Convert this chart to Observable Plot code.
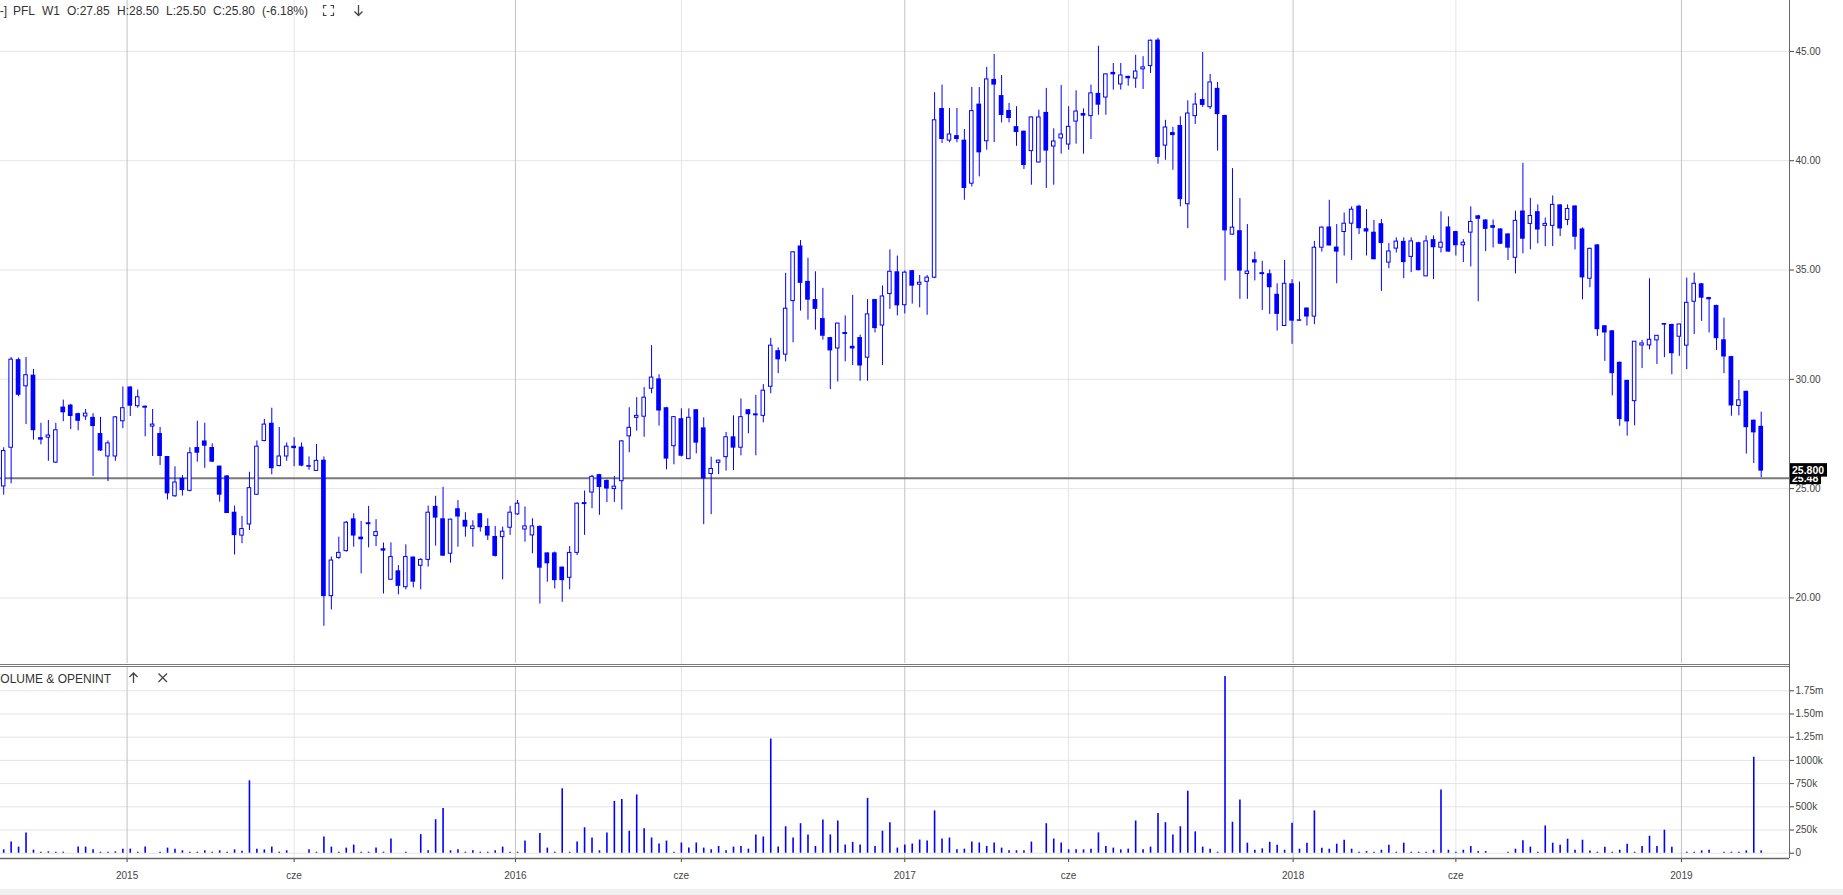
<!DOCTYPE html>
<html lang="pl">
<head>
<meta charset="utf-8">
<title>PFL W1</title>
<script src="https://cdn.jsdelivr.net/npm/d3@7"></script>
<script src="https://cdn.jsdelivr.net/npm/@observablehq/plot@0.6"></script>
<style>
html, body { margin:0; padding:0; background:#fff; overflow:hidden; }
#wrap { position:relative; width:1843px; height:895px; overflow:hidden; background:#fff; }
#price, #volume { position:absolute; left:0; }
#price { top:0; }
#volume { top:667px; }
#overlay { position:absolute; left:0; top:0; }
svg { display:block; }
</style>
</head>
<body>
<div id="wrap">
  <div id="price"></div>
  <div id="volume"></div>
  <svg id="overlay" width="1843" height="895"></svg>
</div>
<script>
// ---------- DATA (weekly bars, Sunday-stamped, first bar 2014-09-07) ----------
const firstBar = "2014-09-07";
const opens = [
25.1,26.87,30.9,29.68,30.19,27.33,27.33,26.19,28.73,28.82,
28.43,28.30,28.26,27.52,26.47,26.47,28.08,29.65,28.77,28.77,
27.84,27.52,26.47,24.65,25.47,24.9,26.88,27.18,26.88,26.03,
25.58,23.92,22.85,23.36,24.72,27.18,27.99,26.03,26.47,26.94,
26.9,26.0,25.81,26.30,20.08,21.83,22.14,23.62,22.78,23.44,
22.83,22.25,20.83,21.24,20.49,21.87,21.47,21.74,24.19,23.62,
22.02,24.08,23.55,23.15,23.85,23.27,22.81,22.78,23.21,23.82,
23.13,22.86,23.27,22.06,22.06,21.41,20.92,22.06,24.36,24.82,
25.64,25.37,24.98,25.34,27.39,28.24,28.29,29.57,30.02,28.7,
26.94,28.2,26.35,28.61,27.78,25.67,26.18,26.44,27.37,26.87,
28.61,28.42,28.33,29.66,31.31,31.13,33.58,36.1,34.48,33.65,
32.78,31.91,31.41,32.14,31.51,31.91,30.99,33.65,32.46,33.9,
34.92,33.39,34.97,34.33,34.46,34.65,42.39,40.92,41.15,40.94,
38.95,42.59,40.89,43.72,42.98,42.3,41.56,41.35,40.44,39.92,
42.21,40.65,41.02,40.74,41.79,42.16,42.04,43.08,42.89,44.04,
43.49,43.86,43.76,44.18,44.33,45.52,40.69,41.29,41.61,38.01,
42.04,42.8,42.45,43.31,42.07,36.62,36.8,34.82,35.47,34.88,
34.83,33.89,32.44,34.37,32.68,33.26,32.87,36.02,36.97,36.05,
36.74,37.12,37.92,36.89,36.73,37.12,35.34,35.98,36.31,35.6,
36.25,34.71,36.39,36.02,36.97,36.76,36.13,36.71,37.48,37.29,
37.03,36.88,36.65,35.56,37.7,37.11,37.67,37.02,37.02,37.98,
37.29,37.93,36.88,34.6,36.15,32.45,32.22,30.78,29.95,29.0,
31.55,31.55,31.78,32.5,32.51,31.95,31.54,33.55,34.37,33.74,
33.38,31.81,31.04,28.78,29.45,28.13,27.85];
const highs = [
26.87,31.0,30.97,31.0,30.45,27.99,28.12,27.99,29.05,28.86,
28.45,28.62,28.43,28.26,27.18,28.30,29.65,29.66,29.51,28.78,
28.62,27.8,26.47,26.0,25.6,26.87,28.08,27.99,27.05,26.03,
25.6,24.2,23.73,25.75,27.18,28.17,28.68,27.8,27.09,27.33,
27.09,26.45,27.02,26.45,21.87,22.78,23.5,23.85,23.5,24.19,
23.58,22.51,22.52,21.48,22.43,21.87,21.79,24.2,24.65,25.06,
23.6,24.45,23.9,23.53,23.86,23.62,23.27,23.24,24.19,24.46,
24.16,23.62,23.3,22.06,22.1,21.41,22.35,24.35,24.89,25.61,
25.65,25.4,25.55,27.2,28.7,29.16,29.62,31.54,30.21,28.72,
28.3,28.65,28.65,28.62,28.24,26.44,26.3,27.57,28.33,29.1,
28.62,29.27,29.76,31.87,31.44,34.85,35.84,36.35,35.54,34.92,
34.16,31.92,32.56,32.9,33.84,32.02,33.65,33.66,34.27,35.92,
35.64,34.95,34.98,34.75,34.75,43.11,43.46,42.39,42.39,41.43,
43.35,43.35,44.27,44.86,43.9,42.62,42.47,41.36,42.0,42.31,
43.31,41.46,43.44,42.47,43.2,42.37,43.46,45.24,43.96,44.45,
44.45,43.87,44.82,44.76,45.52,45.6,41.85,41.53,42.01,42.74,
43.08,44.95,43.95,43.58,42.08,39.64,38.27,37.08,35.82,35.4,
35.0,34.37,35.44,34.56,34.45,33.27,36.31,36.97,38.19,37.08,
37.61,37.89,37.96,37.76,37.27,37.31,36.21,36.47,36.47,36.47,
36.27,36.56,36.56,37.66,37.43,36.77,36.39,37.89,37.5,37.3,
37.29,36.89,36.66,37.69,39.88,38.28,37.98,37.38,38.39,37.99,
37.98,37.94,36.93,36.0,36.16,32.46,32.23,30.79,29.96,31.73,
31.78,34.6,32.0,32.53,32.52,32.52,34.63,34.86,34.38,33.75,
33.39,32.8,31.05,29.95,29.46,28.14,28.5];
const lows = [
24.7,25.22,29.2,27.93,27.22,27.0,26.25,26.15,28.06,27.7,
27.65,28.12,25.56,26.7,25.32,26.25,27.74,28.30,28.68,27.37,
26.47,26.06,24.48,24.6,24.66,24.85,26.21,25.93,26.19,24.38,
23.86,21.96,22.48,23.08,24.7,27.14,25.63,26.0,26.25,26.0,
26.0,25.84,25.81,18.7,19.45,21.76,22.1,22.32,21.1,22.29,
22.35,20.18,20.83,20.14,20.37,20.46,20.37,21.41,22.37,21.9,
21.59,22.32,22.78,22.32,23.01,22.63,21.87,20.83,22.86,23.78,
22.55,22.02,19.72,20.72,20.41,19.8,20.37,21.94,22.86,24.08,
23.78,24.36,24.37,24.02,26.64,27.63,27.35,29.34,27.86,25.86,
26.09,26.45,26.33,26.59,23.35,23.81,25.64,25.8,25.83,26.5,
27.51,26.5,28.01,29.34,30.26,30.8,31.67,33.12,32.71,32.25,
31.79,29.53,29.88,30.8,30.63,29.91,29.91,32.12,30.63,33.2,
32.9,32.99,33.44,33.27,32.93,34.6,40.79,40.82,40.82,38.19,
38.8,39.26,40.48,40.83,41.73,41.73,40.66,39.6,38.88,39.9,
38.73,38.88,40.3,40.48,40.76,40.3,40.97,42.08,42.08,43.23,
43.23,43.41,43.31,43.26,43.99,39.84,40.02,39.56,37.89,36.89,
41.66,42.44,42.34,40.44,34.5,36.6,33.66,33.66,34.5,33.15,
32.97,32.21,32.43,31.6,32.66,32.44,32.5,35.82,36.1,34.37,
35.64,35.44,36.62,35.64,35.47,34.02,35.06,35.78,34.6,34.88,
34.96,34.7,34.56,35.78,35.82,35.64,35.34,35.14,33.55,35.84,
36.01,36.17,35.43,34.82,35.74,35.92,36.2,36.07,36.07,36.53,
37.03,35.92,33.64,34.19,31.96,30.82,29.24,27.85,27.4,27.87,
30.49,31.35,30.68,30.99,30.21,31.05,30.44,32.05,32.65,32.12,
31.32,30.26,28.31,28.33,26.58,26.15,25.5];
const closes = [
26.72,30.9,29.27,30.19,27.65,27.22,27.43,27.67,28.47,28.30,
28.08,28.43,27.84,26.72,27.07,28.26,28.68,28.77,29.18,28.68,
27.93,26.47,24.76,25.28,24.91,26.62,26.62,26.94,26.21,24.70,
23.86,22.85,23.15,25.02,26.92,27.93,25.91,26.47,26.92,26.83,
26.03,26.03,26.27,20.06,21.71,22.06,23.44,22.83,22.66,23.35,
23.01,22.14,21.87,20.53,21.87,20.72,21.74,23.9,23.65,21.91,
23.58,23.7,23.24,23.27,23.21,22.83,21.9,23.03,23.9,24.31,
23.27,23.27,21.36,21.56,20.79,20.79,22.06,24.31,24.27,25.54,
25.05,24.98,25.09,27.16,27.78,28.33,29.16,30.08,28.55,26.35,
28.27,26.48,28.24,27.08,25.44,25.9,26.28,27.35,26.85,28.27,
28.38,28.33,29.48,31.54,30.89,33.23,35.81,34.39,33.62,33.2,
31.97,31.3,32.55,32.05,31.39,30.61,32.97,32.32,33.79,34.92,
33.36,34.88,34.26,34.42,34.65,41.85,40.97,41.2,40.97,38.73,
42.27,40.36,43.72,43.46,42.07,41.93,41.29,39.78,41.98,41.98,
40.44,40.88,41.2,41.55,42.25,42.04,43.08,42.54,43.95,43.93,
43.9,43.75,44.08,44.27,45.49,40.15,41.52,41.15,38.22,42.16,
42.57,42.53,43.58,42.11,36.79,36.94,34.95,34.93,35.32,34.79,
34.19,32.97,34.37,32.66,32.7,32.85,36.02,36.94,36.1,35.82,
37.12,37.76,36.89,36.74,35.47,36.21,35.85,36.3,35.34,36.31,
34.97,36.31,36.02,36.25,35.82,36.11,36.25,37.2,37.32,36.86,
36.91,36.18,36.0,37.25,36.41,37.47,36.83,37.11,37.98,36.88,
37.79,36.5,34.64,35.97,32.27,32.12,30.26,28.16,28.05,31.72,
31.64,31.81,31.99,32.53,31.17,32.51,33.5,34.37,33.71,33.64,
31.86,31.02,28.78,29.04,27.79,27.55,25.8];
const volumesK = [
36,120,66,219,33,11,15,11,11,0,
66,66,36,11,11,15,44,44,11,66,
0,11,55,44,26,11,11,26,11,26,
11,36,22,780,44,36,66,11,26,0,
0,36,11,175,66,11,55,88,11,11,
55,11,153,0,11,0,200,26,361,482,
26,36,11,26,11,11,26,66,11,11,
131,0,212,55,11,694,11,120,274,164,
26,219,558,580,237,628,263,164,99,131,
11,110,55,110,55,36,73,26,66,73,
44,197,175,1230,66,285,164,318,197,73,
358,197,347,88,117,88,591,73,237,329,
55,88,99,142,131,456,153,164,36,44,
120,110,73,110,55,26,26,26,120,0,
318,153,110,36,36,36,44,219,73,55,
36,44,347,36,66,427,329,197,285,668,
230,66,44,11,1904,334,574,108,32,47,
118,86,32,323,43,108,456,54,43,97,
140,43,11,18,11,32,86,11,108,11,
11,11,32,680,32,11,32,72,18,18,
0,0,11,43,133,65,11,294,108,86,
151,32,140,25,11,65,11,32,97,11,
72,183,72,248,65,0,11,11,25,32,
0,11,11,11,25,1034,25];
const priceTicks = [20, 25, 30, 35, 40, 45];
const volumeTicks = [0, 250000, 500000, 750000, 1000000, 1250000, 1500000, 1750000];
const timeTickDates = ["2015-01-01","2015-06-07","2016-01-01","2016-06-05","2017-01-01","2017-06-04","2018-01-01","2018-06-03","2019-01-01"];
const timeTickLabels = ["2015","cze","2016","cze","2017","cze","2018","cze","2019"];
const headerTokens = ["-]","PFL","W1","O:27.85","H:28.50","L:25.50","C:25.80","(-6.18%)"];
const lastClose = 25.80;
const markerLevel = 25.48;
const volumePaneTitle = "VOLUME & OPENINT";

// ---------- LAYOUT ----------
const W = 1843, PRICE_H = 663, VOL_H = 228, VOL_TOP = 667, RIGHT = 54;
const xDomain = [new Date(Date.UTC(2014, 8, 4)), new Date(Date.UTC(2019, 3, 12, 14))];
const priceDomain = [17.0, 47.33];
const volumeDomain = [-57000, 2001000];
const BLUE = "#0000ff";
const FONT = '"Liberation Sans", Arial, sans-serif';
const headerX = [7, 13, 42, 67, 117, 166, 213, 262];

const start = new Date(firstBar + "T00:00:00Z");
const bars = opens.map((o, i) => ({
  date: d3.utcDay.offset(start, 7 * i),
  open: o, high: highs[i], low: lows[i], close: closes[i],
  volume: volumesK[i] * 1000
}));
const up = bars.filter(d => d.close >= d.open);
const down = bars.filter(d => d.close < d.open);
const ticks = timeTickDates.map((s, i) => ({date: new Date(s + "T00:00:00Z"), label: timeTickLabels[i]}));
const majorTicks = ticks.filter(t => t.label !== "cze");
const minorTicks = ticks.filter(t => t.label === "cze");
const labelOf = new Map(ticks.map(t => [+t.date, t.label]));

const msPerPx = (xDomain[1] - xDomain[0]) / (W - RIGHT);
const off = (d, px) => new Date(+d + px * msPerPx);

const style = {fontFamily: FONT, fontSize: "10px", color: "#444", background: "transparent", overflow: "visible"};

const priceChart = Plot.plot({
  width: W, height: PRICE_H,
  marginLeft: 0, marginRight: RIGHT, marginTop: 0, marginBottom: 0,
  style,
  x: {type: "utc", domain: xDomain, axis: null},
  y: {domain: priceDomain, axis: "right", ticks: priceTicks, tickFormat: d => d.toFixed(2), tickSize: 4, tickPadding: 2, label: null},
  marks: [
    Plot.ruleY(priceTicks, {stroke: "#e4e4e4"}),
    Plot.ruleX(minorTicks, {x: "date", stroke: "#e4e4e4"}),
    Plot.ruleX(majorTicks, {x: "date", stroke: "#c2c2c2"}),
    Plot.ruleY([markerLevel], {stroke: "#787878", strokeWidth: 2}),
    Plot.ruleX(bars, {x: "date", y1: "low", y2: "high", stroke: BLUE, strokeWidth: 1}),
    Plot.rect(down, {x1: d => off(d.date, -2.35), x2: d => off(d.date, 2.35), y1: "open", y2: "close", fill: BLUE}),
    Plot.rect(up, {x1: d => off(d.date, -1.75), x2: d => off(d.date, 1.75), y1: "open", y2: "close", fill: "white", stroke: BLUE, strokeWidth: 1}),
    Plot.ruleX([xDomain[1]], {stroke: "#666"})
  ]
});
document.getElementById("price").appendChild(priceChart);

const fmtVol = v => v === 0 ? "0" : v <= 1000000 ? (v / 1000) + "k" : (v / 1000000).toFixed(2) + "m";

const volChart = Plot.plot({
  width: W, height: VOL_H,
  marginLeft: 0, marginRight: RIGHT, marginTop: 0, marginBottom: 37,
  style,
  x: {type: "utc", domain: xDomain, ticks: ticks.map(t => t.date), tickFormat: d => labelOf.get(+d), tickSize: 4, tickPadding: 9, label: null},
  y: {domain: volumeDomain, axis: "right", ticks: volumeTicks, tickFormat: fmtVol, tickSize: 4, tickPadding: 2, label: null},
  marks: [
    Plot.ruleY(volumeTicks, {stroke: "#e4e4e4"}),
    Plot.ruleX(minorTicks, {x: "date", stroke: "#e4e4e4"}),
    Plot.ruleX(majorTicks, {x: "date", stroke: "#c2c2c2"}),
    Plot.ruleX(bars.filter(d => d.volume > 0), {x: "date", y1: 0, y2: "volume", stroke: BLUE, strokeWidth: 1.6}),
    Plot.ruleY([volumeDomain[0]], {stroke: "#666", strokeWidth: 1.5}),
    Plot.ruleX([xDomain[1]], {stroke: "#666"})
  ]
});
document.getElementById("volume").appendChild(volChart);

// ---------- OVERLAY (header, pane separator, price labels) ----------
const svg = d3.select("#overlay");
const plotRight = W - RIGHT;

// pane separator (double line)
[664.5, 666.5].forEach(y => svg.append("line").attr("x1", 0).attr("x2", plotRight + 0.5).attr("y1", y).attr("y2", y).attr("stroke", "#7a7a7a"));
svg.append("line").attr("x1", plotRight + 0.5).attr("x2", plotRight + 0.5).attr("y1", 660).attr("y2", 670).attr("stroke", "#666");

// header
headerTokens.forEach((t, i) => svg.append("text")
  .attr("x", headerX[i]).attr("y", 14.5)
  .attr("text-anchor", i === 0 ? "end" : "start")
  .attr("font-family", FONT).attr("font-size", 12).attr("fill", "#333").text(t));
svg.append("path").attr("d", "M323.5,8.5V5.5H326.5M330.5,5.5H333.5V8.5M333.5,12.5V15.5H330.5M326.5,15.5H323.5V12.5")
  .attr("fill", "none").attr("stroke", "#444").attr("stroke-width", 1.2);
svg.append("path").attr("d", "M358.5,5V15.5M354.5,11.5L358.5,15.5L362.5,11.5")
  .attr("fill", "none").attr("stroke", "#444").attr("stroke-width", 1.3);

// volume pane title + icons
svg.append("text").attr("x", 111).attr("y", 682.5).attr("text-anchor", "end")
  .attr("font-family", FONT).attr("font-size", 12).attr("fill", "#333").text(volumePaneTitle);
svg.append("path").attr("d", "M133.5,683V673M129.5,677L133.5,673L137.5,677")
  .attr("fill", "none").attr("stroke", "#444").attr("stroke-width", 1.3);
svg.append("path").attr("d", "M158.5,673.5L167,682M167,673.5L158.5,682")
  .attr("fill", "none").attr("stroke", "#444").attr("stroke-width", 1.3);

// price labels on the right axis
const yPrice = priceChart.scale("y");
const yMark = yPrice.apply(markerLevel);
const yLast = yPrice.apply(lastClose);
svg.append("rect").attr("x", plotRight + 1).attr("y", yMark - 6.5).attr("width", 31).attr("height", 13).attr("fill", "#000");
svg.append("text").attr("x", plotRight + 3).attr("y", yMark + 4).attr("font-family", FONT).attr("font-size", 10.5)
  .attr("font-weight", "bold").attr("fill", "#fff").text(markerLevel.toFixed(2));
svg.append("rect").attr("x", plotRight + 1).attr("y", yLast - 7.5).attr("width", 37).attr("height", 13.5).attr("fill", "#000");
svg.append("text").attr("x", plotRight + 3).attr("y", yLast + 3).attr("font-family", FONT).attr("font-size", 10.5)
  .attr("font-weight", "bold").attr("fill", "#fff").text(lastClose.toFixed(3));

// bottom strip
svg.append("rect").attr("x", 0).attr("y", 889).attr("width", W).attr("height", 6).attr("fill", "#efefef");
</script>
</body>
</html>
